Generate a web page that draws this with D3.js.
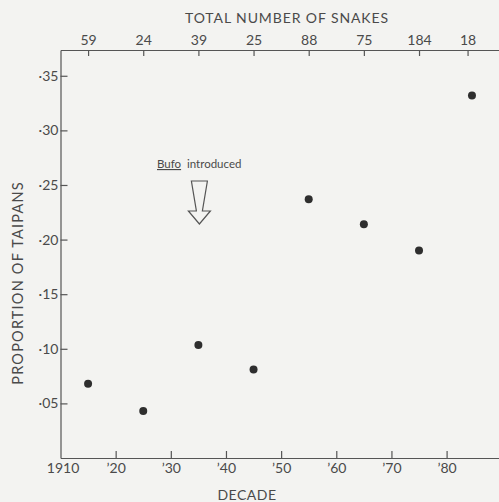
<!DOCTYPE html>
<html>
<head>
<meta charset="utf-8">
<script src="https://cdn.jsdelivr.net/npm/d3@7"></script>
<style>
  body { margin: 0; background: #f3f3f1; }
  svg { display: block; }
  .axis text { font-family: Lato, "Open Sans", sans-serif; font-size: 14px; fill: #4a4a4a; }
  .axis path, .axis line { stroke: #555; stroke-width: 1.2; }
  .title { font-family: Lato, "Open Sans", sans-serif; font-size: 14px; fill: #4a4a4a; letter-spacing: 0.9px; }
</style>
</head>
<body>
<script>
// decades along the bottom
const decades = [1910, 1920, 1930, 1940, 1950, 1960, 1970, 1980];
const decadeLabels = ["1910", "\u201920", "\u201930", "\u201940", "\u201950", "\u201960", "\u201970", "\u201980"];

// total number of snakes per decade (top axis)
const snakeYears = [1915, 1925, 1935, 1945, 1955, 1965, 1975, 1983.8];
const snakeTotals = ["59", "24", "39", "25", "88", "75", "184", "18"];

// proportion of taipans per decade
const pointYears = [1915, 1925, 1935, 1945, 1955, 1965, 1975, 1984.6];
const proportions = [0.068, 0.043, 0.1035, 0.081, 0.237, 0.214, 0.190, 0.332];

const yTicks = [0.05, 0.10, 0.15, 0.20, 0.25, 0.30, 0.35];

const width = 499, height = 502;

const svg = d3.select("body").append("svg")
    .attr("width", width)
    .attr("height", height);

const x = d3.scaleLinear().domain([1910, 1989.5]).range([60.5, 499]);
const y = d3.scaleLinear().domain([0, 0.3736]).range([458, 50]);

// bottom axis
svg.append("g")
    .attr("class", "axis")
    .attr("transform", "translate(0," + y(0) + ")")
    .call(d3.axisBottom(x)
        .tickValues(decades)
        .tickFormat(function(d, i) { return decadeLabels[i]; })
        .tickSizeInner(-7)
        .tickSizeOuter(0)
        .tickPadding(5))
    .call(function(g) {
        g.selectAll(".tick").filter(function(d) { return d === 1910; }).select("line").remove();
        g.selectAll(".tick text").attr("dx", function(d) { return d === 1910 ? 2 : 0; });
    });

// top axis
svg.append("g")
    .attr("class", "axis")
    .attr("transform", "translate(0," + y.range()[1] + ")")
    .call(d3.axisTop(x)
        .tickValues(snakeYears)
        .tickFormat(function(d, i) { return snakeTotals[i]; })
        .tickSizeInner(-6)
        .tickSizeOuter(0)
        .tickPadding(5));

// left axis
svg.append("g")
    .attr("class", "axis")
    .attr("transform", "translate(" + x(1910) + ",0)")
    .call(d3.axisLeft(y)
        .tickValues(yTicks)
        .tickFormat(function(d) { return "\u00b7" + d3.format(".2f")(d).slice(2); })
        .tickSizeInner(-7)
        .tickSizeOuter(0)
        .tickPadding(2));

// titles
svg.append("text")
    .attr("class", "title")
    .attr("x", 287).attr("y", 23)
    .attr("text-anchor", "middle")
    .text("TOTAL NUMBER OF SNAKES");

svg.append("text")
    .attr("class", "title")
    .attr("x", 247).attr("y", 500)
    .attr("text-anchor", "middle")
    .style("letter-spacing", "0.5px")
    .text("DECADE");

svg.append("text")
    .attr("class", "title")
    .attr("transform", "translate(23,283) rotate(-90)")
    .attr("text-anchor", "middle")
    .style("font-size", "14.5px")
    .style("letter-spacing", "1.2px")
    .text("PROPORTION OF TAIPANS");

// points
svg.append("g")
    .selectAll("circle")
    .data(proportions)
    .join("circle")
    .attr("cx", function(d, i) { return x(pointYears[i]); })
    .attr("cy", function(d) { return y(d); })
    .attr("r", 4)
    .attr("fill", "#2e2e2e");

// Bufo annotation
const note = svg.append("text")
    .attr("x", 157).attr("y", 168)
    .style("font-family", "Lato, 'Open Sans', sans-serif")
    .style("font-size", "11.5px")
    .style("fill", "#4a4a4a");
note.append("tspan").style("text-decoration", "underline").text("Bufo");
note.append("tspan").text("\u00a0 introduced");

const ax = x(1935) + 1, arrowTop = 181;
const arrow = [
    [ax - 8, arrowTop], [ax + 8, arrowTop], [ax + 3, arrowTop + 30], [ax + 11, arrowTop + 30],
    [ax, arrowTop + 43], [ax - 11, arrowTop + 30], [ax - 3, arrowTop + 30]
];
svg.append("path")
    .attr("d", d3.line()(arrow) + "Z")
    .attr("fill", "none")
    .attr("stroke", "#555")
    .attr("stroke-width", 1.2);
</script>
</body>
</html>
